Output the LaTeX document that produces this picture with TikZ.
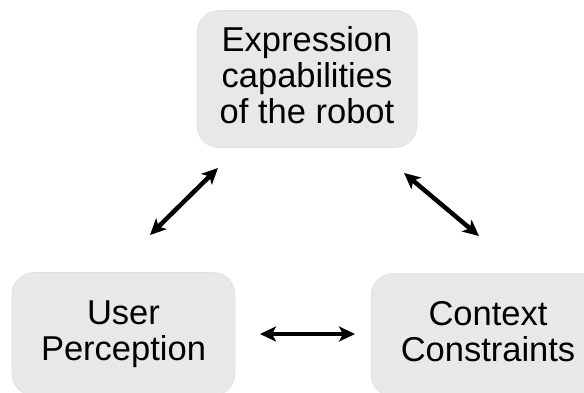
\documentclass[tikz,border=0pt]{standalone}
\usepackage{fontspec}
\setmainfont{Liberation Sans}
\usetikzlibrary{arrows.meta}
\tikzset{
  box/.style={draw=black!12, line width=0.6pt, fill=black!9, rounded corners=22pt,
    align=center, inner sep=0pt, text depth=7.2pt,
    font=\fontsize{34.5pt}{36pt}\selectfont},
  link/.style={line width=4.5pt, {Stealth[length=16pt,width=15pt,inset=4pt]}-{Stealth[length=16pt,width=15pt,inset=4pt]}}
}
\begin{document}
\begin{tikzpicture}[x=1pt,y=-1pt]
\useasboundingbox (0,0) rectangle (584,392);
\clip (0,0) rectangle (584,392);
\node[box, minimum width=220pt, minimum height=137pt] (top) at (307,79)
  {Expression\\capabilities\\of the robot};
\node[box, minimum width=223pt, minimum height=123pt] (user) at (123.5,334)
  {User\\Perception};
\node[box, minimum width=234pt, minimum height=123pt] (ctx) at (488,335)
  {Context\\Constraints};
\coordinate (a1) at (150,235);
\coordinate (a2) at (218,168);
\coordinate (b1) at (404,173);
\coordinate (b2) at (479,236);
\coordinate (c1) at (260,334);
\coordinate (c2) at (355,334);
\draw[link] (a1) -- (a2);
\draw[link] (b1) -- (b2);
\draw[link] (c1) -- (c2);
\end{tikzpicture}
\end{document}
